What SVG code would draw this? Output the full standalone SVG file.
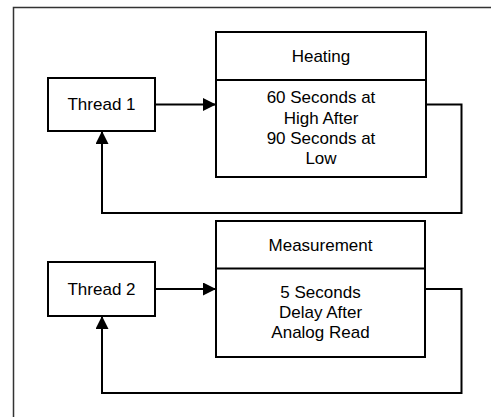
<svg xmlns="http://www.w3.org/2000/svg" width="491" height="417" viewBox="0 0 491 417">
<defs>
<marker id="ah" markerUnits="userSpaceOnUse" markerWidth="13" markerHeight="13" viewBox="0 0 13 13" refX="13" refY="6.5" orient="auto">
<path d="M0,0 L13,6.5 L0,13 Z" fill="#000"/>
</marker>
<style>
.box{fill:#fff;stroke:#000;stroke-width:2}
.frame{fill:none;stroke:#333;stroke-width:1.5}
.conn{fill:none;stroke:#000;stroke-width:2}
text{font-family:"Liberation Sans",Arial,sans-serif;font-size:17px;fill:#000;text-anchor:middle}
</style>
</defs>
<rect width="491" height="417" fill="#fff"/>
<rect class="frame" x="13.5" y="7.5" width="490" height="420"/>
<g id="connectors">
<path class="conn" d="M155,104.5 H216" marker-end="url(#ah)"/>
<path class="conn" d="M426,104.5 H461.5 V213 H102 V131" marker-end="url(#ah)"/>
<path class="conn" d="M155,289 H216" marker-end="url(#ah)"/>
<path class="conn" d="M425,289 H461.5 V393 H102 V316" marker-end="url(#ah)"/>
</g>
<g id="thread1">
<rect class="box" x="48" y="78" width="107" height="53"/>
<text x="101.5" y="110">Thread 1</text>
</g>
<g id="heating">
<rect class="box" x="216" y="32" width="210" height="145"/>
<line class="conn" x1="216" y1="80" x2="426" y2="80"/>
<text x="321" y="61.5">Heating</text>
<text x="321" y="103.3">60 Seconds at</text>
<text x="321" y="123.6">High After</text>
<text x="321" y="143.9">90 Seconds at</text>
<text x="321" y="164.2">Low</text>
</g>
<g id="thread2">
<rect class="box" x="48" y="262" width="107" height="54"/>
<text x="101.5" y="295">Thread 2</text>
</g>
<g id="measurement">
<rect class="box" x="216" y="221" width="209" height="136"/>
<line class="conn" x1="216" y1="268.5" x2="425" y2="268.5"/>
<text x="320.5" y="250.7">Measurement</text>
<text x="320.5" y="297.7">5 Seconds</text>
<text x="320.5" y="317.7">Delay After</text>
<text x="320.5" y="337.7">Analog Read</text>
</g>
</svg>
